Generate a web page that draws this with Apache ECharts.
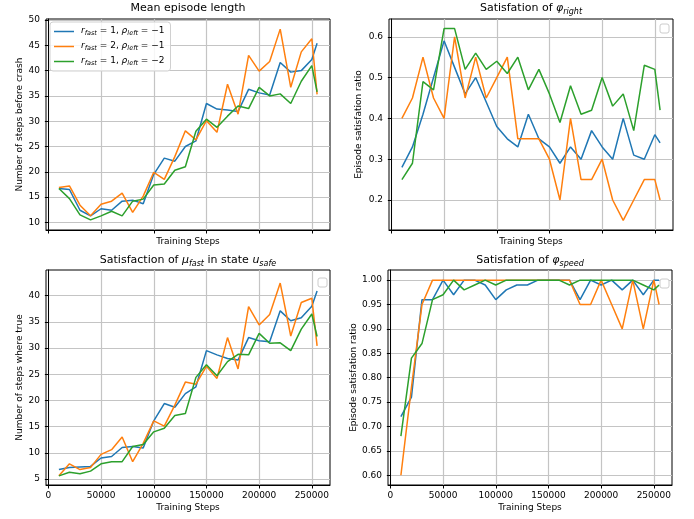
<!DOCTYPE html>
<html>
<head>
<meta charset="utf-8">
<script src="https://cdn.jsdelivr.net/npm/echarts@6/dist/echarts.min.js"></script>
<style>
  html, body { margin: 0; padding: 0; background: #fff; }
  #main { width: 694px; height: 519px; }
</style>
</head>
<body>
<div id="main"></div>
<script>
// training steps (x)
var steps = [10000, 20000, 30000, 40000, 50000, 60000, 70000, 80000, 90000, 100000,
             110000, 120000, 130000, 140000, 150000, 160000, 170000, 180000, 190000, 200000,
             210000, 220000, 230000, 240000, 250000, 255000];
var xTicks = [0, 50000, 100000, 150000, 200000, 250000];

// Mean episode length
var lenBlue   = [16.7, 16.5, 12.4, 11.3, 12.7, 12.4, 14.2, 14.4, 13.7, 19.5, 22.7, 22.1, 25.0, 26.1, 33.5, 32.4, 32.2, 31.9, 36.3, 35.6, 35.2, 41.6, 39.7, 40.0, 42.2, 45.4];
var lenOrange = [16.9, 17.2, 13.4, 11.3, 13.6, 14.2, 15.8, 12.0, 15.2, 19.9, 18.5, 23.0, 28.1, 26.3, 30.1, 27.8, 37.3, 31.4, 43.0, 39.9, 41.8, 48.2, 36.7, 43.7, 46.3, 35.3];
var lenGreen  = [16.7, 14.7, 11.5, 10.5, 11.3, 12.2, 11.3, 14.2, 14.6, 17.4, 17.6, 20.3, 21.0, 28.0, 30.4, 28.8, 31.0, 33.0, 32.5, 36.7, 35.0, 35.4, 33.5, 37.9, 41.0, 35.8];
var lenTicks  = [10, 15, 20, 25, 30, 35, 40, 45, 50];

// Satisfation of phi_right
var rightBlue   = [0.28, 0.33, 0.41, 0.50, 0.59, 0.525, 0.46, 0.50, 0.44, 0.38, 0.35, 0.33, 0.41, 0.35, 0.33, 0.29, 0.33, 0.30, 0.37, 0.33, 0.30, 0.40, 0.31, 0.30, 0.36, 0.34];
var rightOrange = [0.40, 0.45, 0.55, 0.45, 0.40, 0.60, 0.45, 0.55, 0.45, 0.50, 0.55, 0.35, 0.35, 0.35, 0.30, 0.20, 0.40, 0.25, 0.25, 0.30, 0.20, 0.15, 0.20, 0.25, 0.25, 0.20];
var rightGreen  = [0.25, 0.29, 0.49, 0.47, 0.62, 0.62, 0.52, 0.56, 0.52, 0.54, 0.51, 0.55, 0.47, 0.52, 0.46, 0.39, 0.48, 0.41, 0.42, 0.50, 0.43, 0.46, 0.37, 0.53, 0.52, 0.42];
var rightTicks  = [0.2, 0.3, 0.4, 0.5, 0.6];

// Satisfaction of mu_fast in state u_safe
var fastBlue   = [6.8, 7.2, 7.3, 7.4, 9.0, 9.3, 11.0, 11.2, 10.9, 16.1, 19.4, 18.7, 21.3, 22.6, 29.5, 28.7, 28.0, 27.7, 32.0, 31.4, 31.2, 37.1, 35.2, 35.8, 38.0, 40.9];
var fastOrange = [5.6, 7.9, 6.8, 7.2, 9.7, 10.6, 13.0, 8.3, 11.8, 16.1, 15.1, 19.1, 23.5, 23.1, 26.5, 24.2, 32.0, 26.0, 37.9, 34.4, 36.4, 42.4, 32.3, 38.7, 39.5, 30.4];
var fastGreen  = [5.6, 6.3, 6.0, 6.5, 7.9, 8.3, 8.3, 11.2, 11.6, 14.0, 14.7, 17.1, 17.5, 24.4, 26.8, 24.7, 27.4, 28.8, 28.7, 32.8, 30.9, 31.0, 29.5, 33.6, 36.5, 32.2];
var fastTicks  = [5, 10, 15, 20, 25, 30, 35, 40];

// Satisfation of phi_speed
var speedBlue   = [0.72, 0.76, 0.96, 0.96, 1.00, 0.97, 1.00, 1.00, 0.99, 0.96, 0.98, 0.99, 0.99, 1.00, 1.00, 1.00, 1.00, 0.96, 1.00, 0.99, 1.00, 0.98, 1.00, 0.97, 1.00, 1.00];
var speedOrange = [0.60, 0.78, 0.95, 1.00, 1.00, 1.00, 1.00, 1.00, 1.00, 1.00, 1.00, 1.00, 1.00, 1.00, 1.00, 1.00, 1.00, 0.95, 0.95, 1.00, 0.95, 0.90, 1.00, 0.90, 1.00, 0.95];
var speedGreen  = [0.68, 0.84, 0.87, 0.96, 0.97, 1.00, 0.98, 0.99, 1.00, 0.99, 1.00, 1.00, 1.00, 1.00, 1.00, 1.00, 0.99, 1.00, 1.00, 1.00, 1.00, 1.00, 1.00, 0.99, 0.98, 0.99];
var speedTicks  = [0.60, 0.65, 0.70, 0.75, 0.80, 0.85, 0.90, 0.95, 1.00];

var runNames = ['run1', 'run2', 'run3'];
var runLabels = {
    run1: '{i|r}{s|fast}{n| = 1, }{i|ρ}{s|left}{n| = −1}',
    run2: '{i|r}{s|fast}{n| = 2, }{i|ρ}{s|left}{n| = −1}',
    run3: '{i|r}{s|fast}{n| = 1, }{i|ρ}{s|left}{n| = −2}'
};
var colors = ['#1f77b4', '#ff7f0e', '#2ca02c'];

var FONT = 'DejaVu Sans';

function pairs(ys) {
    var out = [];
    for (var i = 0; i < steps.length; i++) out.push([steps[i], ys[i]]);
    return out;
}

var richText = {
    n: { fontFamily: FONT, fontSize: 11, fontWeight: 'normal', color: '#000', verticalAlign: 'top', lineHeight: 13 },
    i: { fontFamily: FONT, fontSize: 11, fontWeight: 'normal', fontStyle: 'italic', color: '#000', verticalAlign: 'top', lineHeight: 13 },
    s: { fontFamily: FONT, fontSize: 8, fontWeight: 'normal', fontStyle: 'italic', color: '#000', verticalAlign: 'top', lineHeight: 13, padding: [5, 0, 0, 0] }
};
var legendRich = {
    n: { fontFamily: FONT, fontSize: 9, color: '#000', verticalAlign: 'top', lineHeight: 11 },
    i: { fontFamily: FONT, fontSize: 9, fontStyle: 'italic', color: '#000', verticalAlign: 'top', lineHeight: 11 },
    s: { fontFamily: FONT, fontSize: 6.5, fontStyle: 'italic', color: '#000', verticalAlign: 'top', lineHeight: 11, padding: [4, 0, 0, 0] }
};

var grids = [
    { left: 46, top: 19, width: 284, height: 211 },
    { left: 389, top: 19, width: 284, height: 211 },
    { left: 46, top: 270, width: 284, height: 215 },
    { left: 388, top: 270, width: 284, height: 215 }
];
grids.forEach(function (g) {
    g.show = true;
    g.borderColor = '#000';
    g.borderWidth = 1;
    g.backgroundColor = 'transparent';
});

function xAxis(idx, showLabels, nameGap) {
    return {
        type: 'value', gridIndex: idx,
        min: -2250, max: 267250,
        name: 'Training Steps', nameLocation: 'middle', nameGap: nameGap,
        nameTextStyle: { fontFamily: FONT, fontSize: 9, color: '#000' },
        axisLine: { show: true, onZero: false, lineStyle: { color: '#000', width: 1 } },
        axisTick: { show: true, length: 3.5, customValues: xTicks, lineStyle: { color: '#000' } },
        axisLabel: { show: showLabels, customValues: xTicks, margin: 6, fontFamily: FONT, fontSize: 9, color: '#000',
                     formatter: function (v) { return String(v); } },
        splitLine: { show: true, lineStyle: { color: '#c4c4c4', width: 1.2 } }
    };
}

function yAxis(idx, name, min, max, ticks, digits, nameGap) {
    return {
        type: 'value', gridIndex: idx,
        min: min, max: max,
        name: name, nameLocation: 'middle', nameGap: nameGap,
        nameTextStyle: { fontFamily: FONT, fontSize: 9, color: '#000' },
        axisLine: { show: true, lineStyle: { color: '#000', width: 1 } },
        axisTick: { show: true, length: 3.5, customValues: ticks, lineStyle: { color: '#000' } },
        axisLabel: { customValues: ticks, margin: 6, fontFamily: FONT, fontSize: 9, color: '#000',
                     formatter: function (v) { return v.toFixed(digits); } },
        splitLine: { show: true, lineStyle: { color: '#c4c4c4', width: 1.2 } }
    };
}

var seriesSets = [
    [lenBlue, lenOrange, lenGreen],
    [rightBlue, rightOrange, rightGreen],
    [fastBlue, fastOrange, fastGreen],
    [speedBlue, speedOrange, speedGreen]
];
var series = [];
seriesSets.forEach(function (set, g) {
    set.forEach(function (ys, k) {
        series.push({
            name: runNames[k], type: 'line',
            xAxisIndex: g, yAxisIndex: g,
            data: pairs(ys),
            symbol: 'none', silent: true,
            lineStyle: { color: colors[k], width: 1.5 },
            itemStyle: { color: colors[k] }
        });
    });
});

function title(text, cx, top) {
    return { text: text, left: cx, top: top, textAlign: 'center', padding: 0,
             textStyle: { fontWeight: 'normal', rich: richText } };
}

function emptyLegend(x, y) {
    return { type: 'rect', shape: { x: x, y: y, width: 9, height: 9, r: 2 },
             style: { fill: '#fff', stroke: '#cccccc', lineWidth: 1 }, z: 100 };
}

var chart = echarts.init(document.getElementById('main'), null, { renderer: 'canvas' });
chart.setOption({
    animation: false,
    backgroundColor: '#fff',
    title: [
        title('{n|Mean episode length}', 188, 3),
        title('{n|Satisfation of }{i|φ}{s|right}', 531, 3),
        title('{n|Satisfaction of }{i|μ}{s|fast}{n| in state }{i|u}{s|safe}', 188, 255),
        title('{n|Satisfation of }{i|φ}{s|speed}', 530, 255)
    ],
    legend: {
        data: runNames,
        orient: 'vertical',
        left: 50, top: 22,
        icon: 'rect', itemWidth: 20, itemHeight: 1.5, itemGap: 4,
        padding: [4, 6, 4, 4],
        backgroundColor: 'rgba(255,255,255,0.85)',
        borderColor: '#d0d0d0', borderWidth: 1, borderRadius: 3,
        selectedMode: false,
        formatter: function (name) { return runLabels[name]; },
        textStyle: { rich: legendRich, padding: [0, 0, 0, 2] }
    },
    grid: grids,
    xAxis: [xAxis(0, false, 7), xAxis(1, false, 7), xAxis(2, true, 18), xAxis(3, true, 18)],
    yAxis: [
        yAxis(0, 'Number of steps before crash', 8.5, 50.2, lenTicks, 0, 22),
        yAxis(1, 'Episode satisfation ratio', 0.1265, 0.6435, rightTicks, 1, 26),
        yAxis(2, 'Number of steps where true', 3.85, 44.9, fastTicks, 0, 22),
        yAxis(3, 'Episode satisfation ratio', 0.58, 1.0208, speedTicks, 2, 30)
    ],
    series: series,
    graphic: [
        emptyLegend(660, 24),
        emptyLegend(318, 278),
        emptyLegend(660, 279)
    ]
});
</script>
</body>
</html>
